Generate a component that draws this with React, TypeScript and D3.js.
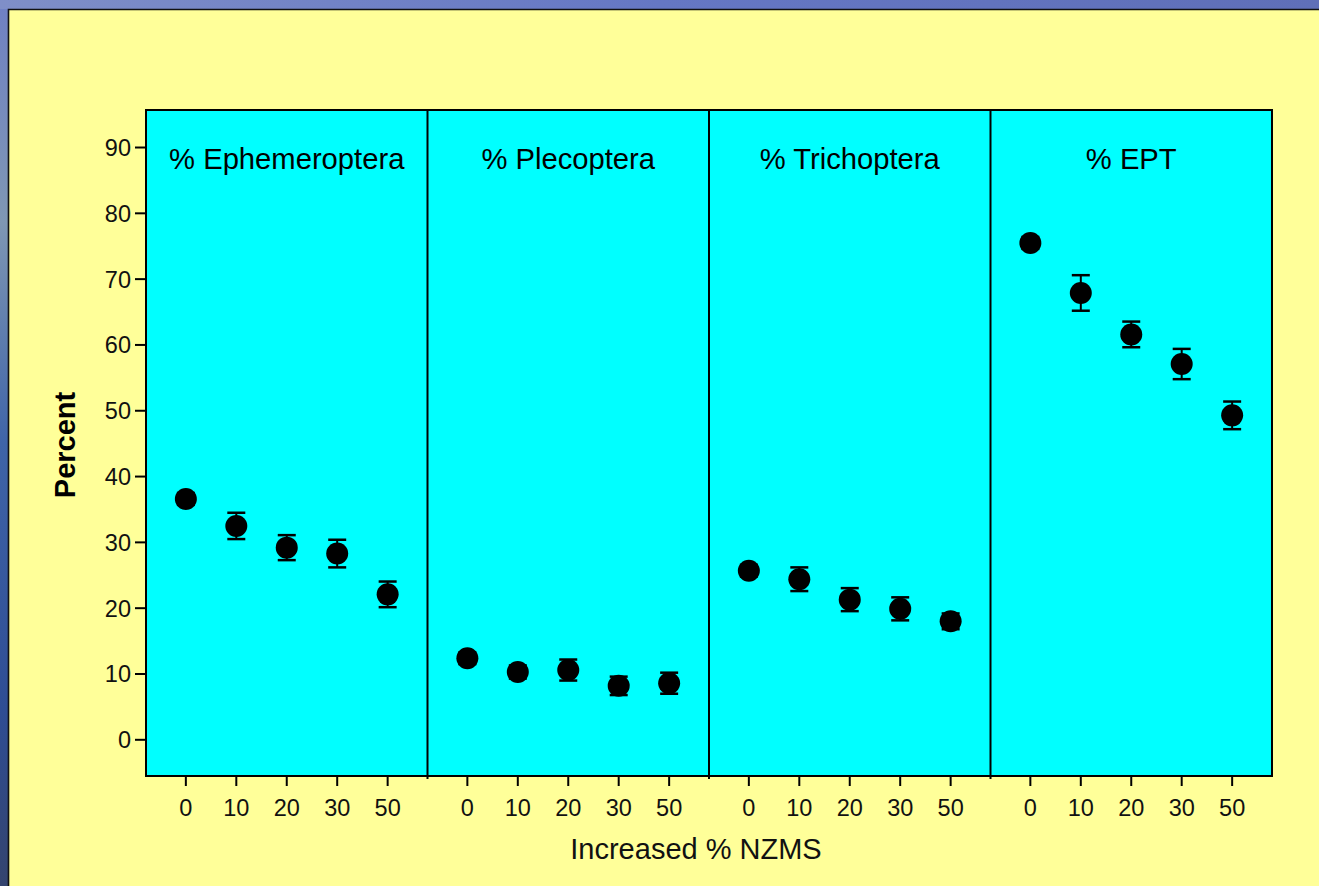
import React, { useEffect } from "react";
import * as d3 from "d3";

// Mean percent of each taxon group per NZMS treatment level, with standard errors
const groups = ["% Ephemeroptera", "% Plecoptera", "% Trichoptera", "% EPT"];
const doses = ["0", "10", "20", "30", "50"];

const ephemeroptera = [36.6, 32.5, 29.2, 28.3, 22.1];
const ephemeropteraSE = [0.9, 2.0, 1.9, 2.1, 1.95];
const plecoptera = [12.4, 10.3, 10.6, 8.2, 8.6];
const plecopteraSE = [0.9, 1.0, 1.6, 1.4, 1.6];
const trichoptera = [25.7, 24.4, 21.3, 19.9, 18.0];
const trichopteraSE = [0.9, 1.8, 1.75, 1.75, 1.2];
const ept = [75.5, 67.9, 61.6, 57.1, 49.3];
const eptSE = [0.9, 2.7, 1.95, 2.3, 2.1];

const yTicks = [0, 10, 20, 30, 40, 50, 60, 70, 80, 90];

const seriesMeans = [ephemeroptera, plecoptera, trichoptera, ept];
const seriesSE = [ephemeropteraSE, plecopteraSE, trichopteraSE, eptSE];

const W = 1319;
const H = 886;
const plot = { left: 146, right: 1272, top: 110, bottom: 776 };
const font = "'Liberation Sans', Arial, sans-serif";

export default function App() {
  useEffect(() => {
    document.documentElement.style.overflow = "hidden";
    document.documentElement.style.background = "#ffff99";
    document.body.style.margin = "0";
    document.body.style.overflow = "hidden";
  }, []);

  const panel = d3
    .scaleBand<string>()
    .domain(groups)
    .range([plot.left, plot.right])
    .padding(0);
  const inner = d3
    .scalePoint<string>()
    .domain(doses)
    .range([0, panel.bandwidth()])
    .padding(0.79);
  const y = d3.scaleLinear().domain([-5.5, 95.7]).range([plot.bottom, plot.top]);

  const points = groups.flatMap((g, gi) =>
    doses.map((d, di) => ({
      group: g,
      dose: d,
      x: (panel(g) as number) + (inner(d) as number),
      mean: seriesMeans[gi][di],
      se: seriesSE[gi][di],
    }))
  );

  return (
    <svg
      width={W}
      height={H}
      style={{ position: "fixed", left: 0, top: 0, display: "block" }}
    >
      <defs>
        <linearGradient id="sea" x1="0" y1="0" x2="0" y2="1">
          <stop offset="0" stopColor="#6f80c4" />
          <stop offset="0.25" stopColor="#7f97b4" />
          <stop offset="0.5" stopColor="#3f64a8" />
          <stop offset="0.8" stopColor="#2f4d94" />
          <stop offset="1" stopColor="#34446e" />
        </linearGradient>
        <linearGradient id="seaTop" x1="0" y1="0" x2="1" y2="0">
          <stop offset="0" stopColor="#7f8fc8" />
          <stop offset="0.5" stopColor="#6577c4" />
          <stop offset="1" stopColor="#5f6fb8" />
        </linearGradient>
      </defs>

      {/* chart canvas, running off the right and bottom edges */}
      <rect x={0} y={0} width={W} height={H} fill="#ffff99" />

      {/* slide backdrop along the left and top margins */}
      <rect x={0} y={0} width={8.5} height={H} fill="url(#sea)" />
      <rect x={0} y={0} width={W} height={9} fill="url(#seaTop)" />
      <path
        d={`M8.5,${H} V9.5 H${W}`}
        fill="none"
        stroke="#111"
        strokeWidth={1.6}
      />

      {/* facet panels */}
      {groups.map((g) => (
        <rect
          key={g}
          x={panel(g)}
          y={plot.top}
          width={panel.bandwidth()}
          height={plot.bottom - plot.top}
          fill="#00ffff"
        />
      ))}
      {groups.slice(1).map((g) => (
        <line
          key={g}
          x1={panel(g)}
          x2={panel(g)}
          y1={plot.top}
          y2={plot.bottom + 3}
          stroke="#000"
          strokeWidth={2}
        />
      ))}
      <rect
        x={plot.left}
        y={plot.top}
        width={plot.right - plot.left}
        height={plot.bottom - plot.top}
        fill="none"
        stroke="#000"
        strokeWidth={2}
      />

      {/* panel titles */}
      {groups.map((g) => (
        <text
          key={g}
          x={(panel(g) as number) + panel.bandwidth() / 2}
          y={169}
          textAnchor="middle"
          fontFamily={font}
          fontSize={29.2}
          fill="#000"
        >
          {g}
        </text>
      ))}

      {/* y axis */}
      {yTicks.map((t) => (
        <g key={t}>
          <line
            x1={plot.left - 11}
            x2={plot.left}
            y1={y(t)}
            y2={y(t)}
            stroke="#000"
            strokeWidth={2}
          />
          <text
            x={plot.left - 15}
            y={y(t)}
            dy="0.36em"
            textAnchor="end"
            fontFamily={font}
            fontSize={23.5}
            fill="#111"
          >
            {t}
          </text>
        </g>
      ))}
      <text
        transform={`translate(75,445) rotate(-90)`}
        textAnchor="middle"
        fontFamily={font}
        fontWeight="bold"
        fontSize={29}
        fill="#000"
      >
        Percent
      </text>

      {/* x axis */}
      {points.map((p) => (
        <g key={`${p.group}-${p.dose}-tick`}>
          <line
            x1={p.x}
            x2={p.x}
            y1={plot.bottom}
            y2={plot.bottom + 10}
            stroke="#000"
            strokeWidth={2}
          />
          <text
            x={p.x}
            y={816}
            textAnchor="middle"
            fontFamily={font}
            fontSize={23.5}
            fill="#111"
          >
            {p.dose}
          </text>
        </g>
      ))}
      <text
        x={696}
        y={859}
        textAnchor="middle"
        fontFamily={font}
        fontSize={29}
        fill="#111"
      >
        Increased % NZMS
      </text>

      {/* error bars and means */}
      {points.map((p) => (
        <g key={`${p.group}-${p.dose}`}>
          <line
            x1={p.x}
            x2={p.x}
            y1={y(p.mean - p.se)}
            y2={y(p.mean + p.se)}
            stroke="#000"
            strokeWidth={2}
          />
          <line
            x1={p.x - 9}
            x2={p.x + 9}
            y1={y(p.mean + p.se)}
            y2={y(p.mean + p.se)}
            stroke="#000"
            strokeWidth={2.5}
          />
          <line
            x1={p.x - 9}
            x2={p.x + 9}
            y1={y(p.mean - p.se)}
            y2={y(p.mean - p.se)}
            stroke="#000"
            strokeWidth={2.5}
          />
          <circle cx={p.x} cy={y(p.mean)} r={11} fill="#000" />
        </g>
      ))}
    </svg>
  );
}
